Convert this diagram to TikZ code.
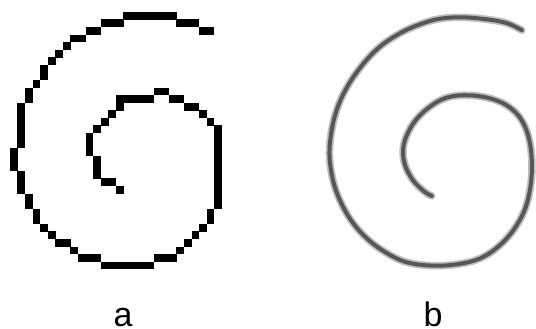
\documentclass[tikz,border=0pt]{standalone}
\usepackage{fontspec}
\setmainfont{Liberation Sans}
\begin{document}
\begin{tikzpicture}[x=1pt,y=-1pt,
  pixel/.style={fill=black},
  softouter/.style={draw=black!25,line width=7.5pt,line cap=round,line join=round},
  softinner/.style={draw=black!66,line width=4pt,line cap=round,line join=round},
  lab/.style={font=\fontsize{34}{34}\selectfont,anchor=base,inner sep=0pt}]
\useasboundingbox (0,0) rectangle (536,329);
% (a) aliased spiral, drawn pixel by pixel
\def\p{7.57}
\foreach \c/\r/\w/\h in {15/0/7/1,12/1/3/1,22/1/3/1,10/2/2/1,25/2/2/1,8/3/2/1,7/4/1/1,6/5/1/1,5/6/1/1,
  4/7/1/2,3/9/1/1,2/10/1/2,1/12/1/6,0/18/1/3,1/21/1/3,2/24/1/2,3/26/1/2,4/28/1/1,5/29/1/1,6/30/2/1,
  8/31/1/1,9/32/3/1,12/33/7/1,19/32/3/1,22/31/1/1,23/30/1/1,24/29/1/1,25/28/1/1,26/26/1/2,27/15/1/11,
  26/14/1/1,25/13/1/1,23/12/2/1,21/11/2/1,19/10/2/1,14/11/5/1,14/12/1/1,13/13/1/1,12/14/1/1,11/15/1/1,
  10/16/1/3,11/19/1/3,12/22/2/1,14/23/1/1}
  \fill[pixel] ({10+\c*\p-0.1},{12+\r*\p-0.1}) rectangle ++({\w*\p+0.2},{\h*\p+0.2});
% (b) antialiased spiral
\begin{scope}[shift={(325.8,15.8)},x=7.57pt,y=-7.57pt]
\def\spiralpts{(25.9,1.9) (24,1.0) (21.5,0.5) (18,0.2) (15,0.4) (12.5,1.1) (10,2.2) (7.5,3.8)
 (5.5,5.7) (3.5,8.3) (2,11) (1,14) (0.5,17.5) (0.7,20.5) (1.5,23.5) (3,26.5) (5,29) (7.5,31)
 (10.5,32.5) (14,33) (17.5,32.8) (20.5,32) (23,30.3) (25,28) (26.5,25) (27.2,21) (27,17) (26,14)
 (24.3,12.1) (22,11) (19,10.5) (16,10.8) (13.5,12.2) (11.5,14.3) (10.3,17) (10.4,19.5) (11.5,21.7)
 (13,23.2) (14,23.8)}
\draw[softouter] plot[smooth,tension=0.6] coordinates {\spiralpts};
\draw[softinner] plot[smooth,tension=0.6] coordinates {\spiralpts};
\end{scope}
\node[lab] (la) at (123,326) {a};
\node[lab] (lb) at (433,326) {b};
\end{tikzpicture}
\end{document}
